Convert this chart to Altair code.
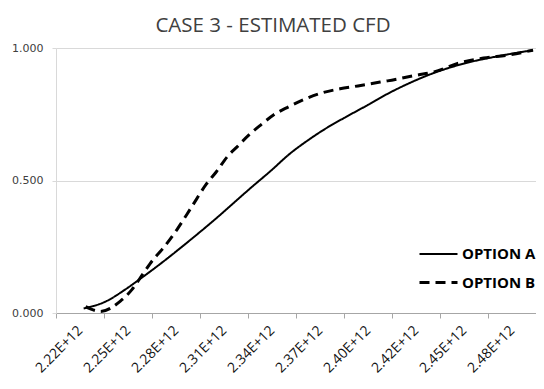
import altair as alt
import pandas as pd

TITLE = "CASE 3 - ESTIMATED CFD"
SERIES = ["OPTION A", "OPTION B"]

# category boundaries (tick marks) and category-centre labels
X_START = 2.207e12
X_STEP = 0.029e12
X_LABELS = ["2.22E+12", "2.25E+12", "2.28E+12", "2.31E+12", "2.34E+12",
            "2.37E+12", "2.40E+12", "2.42E+12", "2.45E+12", "2.48E+12"]
Y_TICKS = [0.0, 0.5, 1.0]

A_X = [2.2237, 2.2369, 2.2489, 2.2590, 2.2710, 2.2835, 2.3015, 2.3254, 2.3374,
       2.3475, 2.3595, 2.3715, 2.3834, 2.3954, 2.4073, 2.4193, 2.4354, 2.4552,
       2.4749, 2.4952]
A_Y = [0.017, 0.043, 0.089, 0.134, 0.190, 0.252, 0.345, 0.476, 0.540,
       0.597, 0.653, 0.702, 0.744, 0.785, 0.827, 0.864, 0.906, 0.944,
       0.970, 0.992]

B_X = [2.2249, 2.2339, 2.2459, 2.2530, 2.2599, 2.2659, 2.2710, 2.2800, 2.2889,
       2.2979, 2.3039, 2.3105, 2.3164, 2.3236, 2.3308, 2.3386, 2.3475, 2.3577,
       2.3673, 2.3786, 2.3894, 2.3996, 2.4073, 2.4253, 2.4354, 2.4510, 2.4653,
       2.4809, 2.4952]
B_Y = [0.024, 0.006, 0.045, 0.089, 0.151, 0.203, 0.239, 0.314, 0.400,
       0.487, 0.533, 0.590, 0.627, 0.672, 0.710, 0.748, 0.778, 0.808,
       0.830, 0.846, 0.857, 0.868, 0.876, 0.898, 0.910, 0.944, 0.962,
       0.974, 0.992]

rows = []
for i, (x, y) in enumerate(zip(A_X, A_Y)):
    rows.append({"x": x * 1e12, "y": y, "series": SERIES[0], "order": i})
for i, (x, y) in enumerate(zip(B_X, B_Y)):
    rows.append({"x": x * 1e12, "y": y, "series": SERIES[1], "order": i})
df = pd.DataFrame(rows)

tick_values = [X_START + i * X_STEP for i in range(len(X_LABELS) + 1)]
label_array = "[" + ",".join("'%s'" % s for s in X_LABELS) + "]"
label_expr = "%s[round((datum.value - %d) / %d)] || ''" % (
    label_array, int(X_START), int(X_STEP))

W, H = 480, 265
step_px = W / len(X_LABELS)

legend = alt.Legend(title=None, orient="none", legendX=362, legendY=186,
                    symbolType="stroke", symbolSize=1444,
                    symbolStrokeColor="#000000",
                    labelFont="Open Sans", labelFontSize=15,
                    labelFontWeight="bold", labelColor="#000000",
                    labelOffset=3, rowPadding=-12, padding=0)

chart = alt.Chart(df).mark_line(interpolate="monotone").encode(
    x=alt.X("x:Q",
            scale=alt.Scale(domain=[tick_values[0], tick_values[-1]], nice=False, zero=False),
            axis=alt.Axis(values=tick_values, labelExpr=label_expr, title=None,
                          grid=False, labelAngle=-45, labelAlign="right",
                          labelBaseline="middle", labelOffset=step_px / 2,
                          labelOverlap=False, labelFlush=False,
                          labelFont="Open Sans", labelFontSize=14, labelColor="#111111",
                          labelPadding=10, tickSize=5, tickColor="#a6a6a6",
                          domainColor="#a6a6a6", labelBound=False)),
    y=alt.Y("y:Q", scale=alt.Scale(domain=[0, 1], nice=False),
            axis=alt.Axis(values=Y_TICKS, format=".3f", title=None,
                          grid=True, gridColor="#d9d9d9", domainColor="#d9d9d9",
                          tickColor="#d9d9d9", tickSize=4, labelPadding=9,
                          labelFont="DejaVu Sans", labelFontSize=11,
                          labelColor="#404040")),
    order="order:Q",
    strokeDash=alt.StrokeDash("series:N",
                              scale=alt.Scale(domain=SERIES, range=[[1, 0], [10, 6]]),
                              legend=legend),
    strokeWidth=alt.StrokeWidth("series:N",
                                scale=alt.Scale(domain=SERIES, range=[2, 3]),
                                legend=legend),
    color=alt.value("#000000"),
).properties(
    width=W, height=H,
    title=alt.TitleParams(TITLE, font="Open Sans", fontSize=20.5, fontWeight="normal",
                          color="#404040", anchor="middle", dx=-23, offset=6),
    autosize=alt.AutoSizeParams(type="none"),
    padding={"left": 48, "top": 40, "right": 0, "bottom": 68},
).configure_view(stroke=None)

chart.save("out.html", embed_options={"renderer": "svg", "actions": False})
